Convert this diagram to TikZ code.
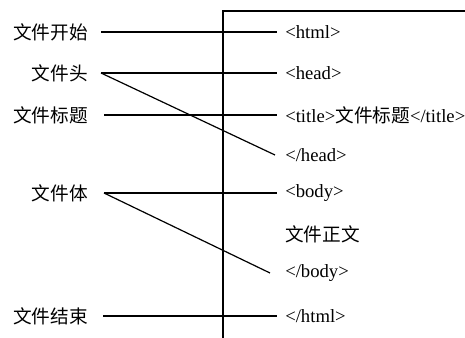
\documentclass[tikz,border=0pt]{standalone}
\usepackage{fontspec}
\setmainfont{Liberation Serif}
\newfontfamily\cjk{Noto Sans CJK SC}
\begin{document}
\begin{tikzpicture}[x=0.75pt,y=-0.75pt,
  lbl/.style={anchor=east,inner sep=0pt,font=\cjk\fontsize{14}{16}\selectfont},
  tag/.style={anchor=west,inner sep=0pt,font=\fontsize{14}{16}\selectfont},
  ln/.style={line width=0.9pt}]
\useasboundingbox (0,0) rectangle (465,338);
% frame
\coordinate (ftop) at (223,11);
\coordinate (fright) at (466,11);
\coordinate (fbot) at (223,339);
\draw[ln] (fbot) -- (ftop) -- (fright);
% left labels
\node[lbl] (l1) at (88,32) {文件开始};
\node[lbl] (l2) at (88,73) {文件头};
\node[lbl] (l3) at (88,115) {文件标题};
\node[lbl] (l4) at (88,193) {文件体};
\node[lbl] (l5) at (88,316) {文件结束};
% right tags
\node[tag] (t1) at (285,32) {<html>};
\node[tag] (t2) at (285,73) {<head>};
\node[tag] (t3) at (285,115) {<title>{\cjk 文件标题}</title>};
\node[tag] (t4) at (285,155) {</head>};
\node[tag] (t5) at (285,193) {<body>};
\node[tag,font=\cjk\fontsize{14}{16}\selectfont] (t6) at (285,234) {文件正文};
\node[tag] (t7) at (285,273) {</body>};
\node[tag] (t8) at (285,316) {</html>};
% connectors
\draw[ln] ([xshift=13*0.75pt]l1.east) -- ([xshift=-8*0.75pt]t1.west);
\draw[ln] ([xshift=13*0.75pt]l2.east) -- ([xshift=-8*0.75pt]t2.west);
\draw[ln] ([xshift=13*0.75pt]l2.east) -- ([xshift=-10*0.75pt]t4.west);
\draw[ln] ([xshift=16*0.75pt]l3.east) -- ([xshift=-8*0.75pt]t3.west);
\draw[ln] ([xshift=16*0.75pt]l4.east) -- ([xshift=-8*0.75pt]t5.west);
\draw[ln] ([xshift=16*0.75pt]l4.east) -- ([xshift=-15*0.75pt]t7.west);
\draw[ln] ([xshift=15*0.75pt]l5.east) -- ([xshift=-8*0.75pt]t8.west);
\end{tikzpicture}
\end{document}
